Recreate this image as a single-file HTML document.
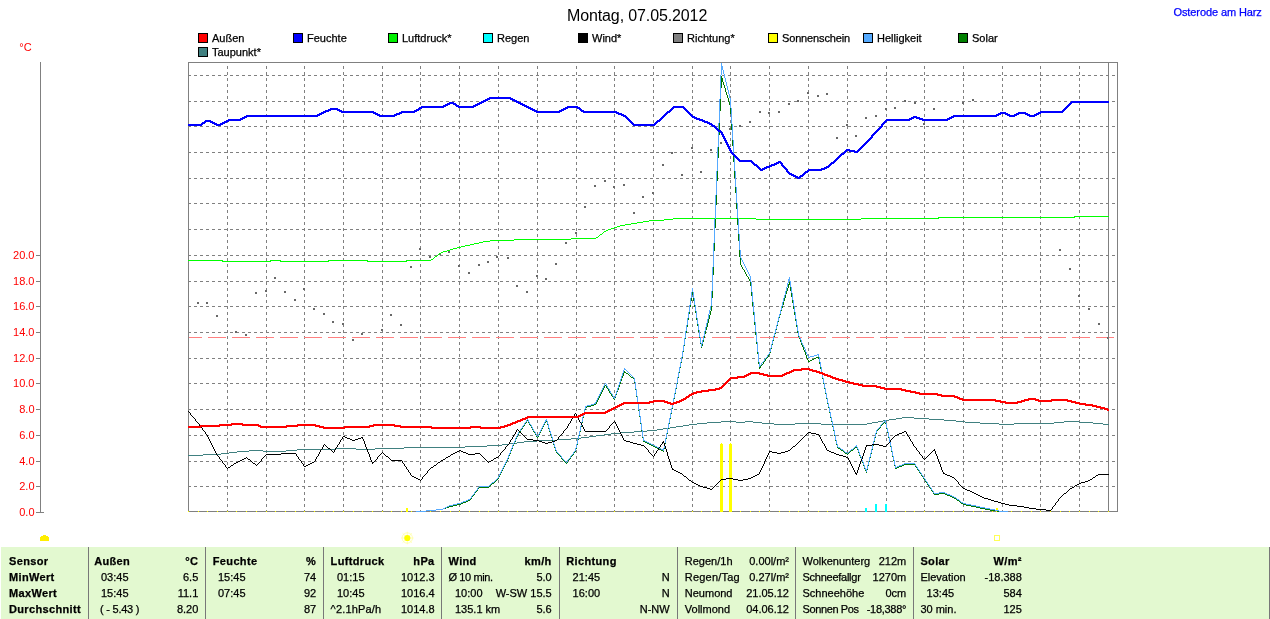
<!DOCTYPE html><html><head><meta charset="utf-8"><title>Wetter</title>
<style>html,body{margin:0;padding:0;background:#fff;overflow:hidden}svg{display:block;will-change:transform}text{font-family:"Liberation Sans",sans-serif;font-size:11px;fill:#000;stroke:#000;stroke-width:0.25px}.b{font-weight:bold;letter-spacing:0.35px}.r{fill:#f00;stroke:none}.e{text-anchor:end}</style></head><body>
<svg width="1270" height="619" viewBox="0 0 1270 619">
<rect width="1270" height="619" fill="#fff"/>
<g shape-rendering="crispEdges" stroke="#808080" stroke-width="1" fill="none"><line x1="188" y1="486.5" x2="1117" y2="486.5" stroke-dasharray="3 3"/><line x1="188" y1="461.5" x2="1117" y2="461.5" stroke-dasharray="3 3"/><line x1="188" y1="435.5" x2="1117" y2="435.5" stroke-dasharray="3 3"/><line x1="188" y1="409.5" x2="1117" y2="409.5" stroke-dasharray="3 3"/><line x1="188" y1="383.5" x2="1117" y2="383.5" stroke-dasharray="3 3"/><line x1="188" y1="358.5" x2="1117" y2="358.5" stroke-dasharray="3 3"/><line x1="188" y1="332.5" x2="1117" y2="332.5" stroke-dasharray="3 3"/><line x1="188" y1="306.5" x2="1117" y2="306.5" stroke-dasharray="3 3"/><line x1="188" y1="281.5" x2="1117" y2="281.5" stroke-dasharray="3 3"/><line x1="188" y1="255.5" x2="1117" y2="255.5" stroke-dasharray="3 3"/><line x1="188" y1="229.5" x2="1117" y2="229.5" stroke-dasharray="3 3"/><line x1="188" y1="203.5" x2="1117" y2="203.5" stroke-dasharray="3 3"/><line x1="188" y1="178.5" x2="1117" y2="178.5" stroke-dasharray="3 3"/><line x1="188" y1="152.5" x2="1117" y2="152.5" stroke-dasharray="3 3"/><line x1="188" y1="126.5" x2="1117" y2="126.5" stroke-dasharray="3 3"/><line x1="188" y1="101.5" x2="1117" y2="101.5" stroke-dasharray="3 3"/><line x1="188" y1="75.5" x2="1117" y2="75.5" stroke-dasharray="3 3"/><line x1="227.5" y1="66" x2="227.5" y2="511" stroke-dasharray="3 3"/><line x1="266.5" y1="66" x2="266.5" y2="511" stroke-dasharray="3 3"/><line x1="304.5" y1="66" x2="304.5" y2="511" stroke-dasharray="3 3"/><line x1="343.5" y1="66" x2="343.5" y2="511" stroke-dasharray="3 3"/><line x1="382.5" y1="66" x2="382.5" y2="511" stroke-dasharray="3 3"/><line x1="420.5" y1="66" x2="420.5" y2="511" stroke-dasharray="3 3"/><line x1="459.5" y1="66" x2="459.5" y2="511" stroke-dasharray="3 3"/><line x1="498.5" y1="66" x2="498.5" y2="511" stroke-dasharray="3 3"/><line x1="537.5" y1="66" x2="537.5" y2="511" stroke-dasharray="3 3"/><line x1="576.5" y1="66" x2="576.5" y2="511" stroke-dasharray="3 3"/><line x1="614.5" y1="66" x2="614.5" y2="511" stroke-dasharray="3 3"/><line x1="653.5" y1="66" x2="653.5" y2="511" stroke-dasharray="3 3"/><line x1="692.5" y1="66" x2="692.5" y2="511" stroke-dasharray="3 3"/><line x1="730.5" y1="66" x2="730.5" y2="511" stroke-dasharray="3 3"/><line x1="769.5" y1="66" x2="769.5" y2="511" stroke-dasharray="3 3"/><line x1="808.5" y1="66" x2="808.5" y2="511" stroke-dasharray="3 3"/><line x1="847.5" y1="66" x2="847.5" y2="511" stroke-dasharray="3 3"/><line x1="886.5" y1="66" x2="886.5" y2="511" stroke-dasharray="3 3"/><line x1="924.5" y1="66" x2="924.5" y2="511" stroke-dasharray="3 3"/><line x1="963.5" y1="66" x2="963.5" y2="511" stroke-dasharray="3 3"/><line x1="1002.5" y1="66" x2="1002.5" y2="511" stroke-dasharray="3 3"/><line x1="1040.5" y1="66" x2="1040.5" y2="511" stroke-dasharray="3 3"/><line x1="1079.5" y1="66" x2="1079.5" y2="511" stroke-dasharray="3 3"/></g>
<line x1="184" y1="337.5" x2="1117" y2="337.5" stroke="#ff8080" stroke-width="1" stroke-dasharray="18 6" shape-rendering="crispEdges" clip-path="url(#cp)"/>
<defs><clipPath id="cp"><rect x="189" y="63" width="928" height="449"/></clipPath></defs>
<g fill="#686868" shape-rendering="crispEdges"><rect x="197" y="302" width="2" height="2"/><rect x="206" y="302" width="2" height="2"/><rect x="216" y="315" width="2" height="2"/><rect x="235" y="331" width="2" height="2"/><rect x="245" y="334" width="2" height="2"/><rect x="255" y="292" width="2" height="2"/><rect x="265" y="290" width="2" height="2"/><rect x="274" y="277" width="2" height="2"/><rect x="284" y="291" width="2" height="2"/><rect x="294" y="299" width="2" height="2"/><rect x="303" y="288" width="2" height="2"/><rect x="313" y="308" width="2" height="2"/><rect x="323" y="313" width="2" height="2"/><rect x="332" y="321" width="2" height="2"/><rect x="342" y="323" width="2" height="2"/><rect x="352" y="339" width="2" height="2"/><rect x="361" y="333" width="2" height="2"/><rect x="381" y="329" width="2" height="2"/><rect x="390" y="314" width="2" height="2"/><rect x="400" y="324" width="2" height="2"/><rect x="410" y="266" width="2" height="2"/><rect x="419" y="248" width="2" height="2"/><rect x="429" y="256" width="2" height="2"/><rect x="439" y="253" width="2" height="2"/><rect x="448" y="251" width="2" height="2"/><rect x="458" y="265" width="2" height="2"/><rect x="468" y="272" width="2" height="2"/><rect x="478" y="264" width="2" height="2"/><rect x="487" y="261" width="2" height="2"/><rect x="496" y="256" width="2" height="2"/><rect x="507" y="257" width="2" height="2"/><rect x="516" y="285" width="2" height="2"/><rect x="526" y="291" width="2" height="2"/><rect x="536" y="275" width="2" height="2"/><rect x="545" y="278" width="2" height="2"/><rect x="555" y="263" width="2" height="2"/><rect x="565" y="242" width="2" height="2"/><rect x="575" y="232" width="2" height="2"/><rect x="584" y="206" width="2" height="2"/><rect x="594" y="185" width="2" height="2"/><rect x="604" y="180" width="2" height="2"/><rect x="613" y="186" width="2" height="2"/><rect x="623" y="184" width="2" height="2"/><rect x="633" y="212" width="2" height="2"/><rect x="642" y="196" width="2" height="2"/><rect x="652" y="192" width="2" height="2"/><rect x="662" y="164" width="2" height="2"/><rect x="671" y="152" width="2" height="2"/><rect x="681" y="174" width="2" height="2"/><rect x="691" y="147" width="2" height="2"/><rect x="700" y="171" width="2" height="2"/><rect x="710" y="149" width="2" height="2"/><rect x="720" y="142" width="2" height="2"/><rect x="729" y="128" width="2" height="2"/><rect x="739" y="125" width="2" height="2"/><rect x="749" y="121" width="2" height="2"/><rect x="759" y="111" width="2" height="2"/><rect x="768" y="112" width="2" height="2"/><rect x="778" y="111" width="2" height="2"/><rect x="788" y="103" width="2" height="2"/><rect x="797" y="100" width="2" height="2"/><rect x="807" y="92" width="2" height="2"/><rect x="817" y="95" width="2" height="2"/><rect x="826" y="93" width="2" height="2"/><rect x="836" y="137" width="2" height="2"/><rect x="846" y="124" width="2" height="2"/><rect x="855" y="135" width="2" height="2"/><rect x="865" y="117" width="2" height="2"/><rect x="875" y="115" width="2" height="2"/><rect x="885" y="108" width="2" height="2"/><rect x="894" y="107" width="2" height="2"/><rect x="904" y="100" width="2" height="2"/><rect x="914" y="102" width="2" height="2"/><rect x="923" y="123" width="2" height="2"/><rect x="933" y="108" width="2" height="2"/><rect x="962" y="102" width="2" height="2"/><rect x="972" y="99" width="2" height="2"/><rect x="1059" y="249" width="2" height="2"/><rect x="1069" y="268" width="2" height="2"/><rect x="1078" y="295" width="2" height="2"/><rect x="1088" y="308" width="2" height="2"/><rect x="1098" y="323" width="2" height="2"/><rect x="1107" y="337" width="2" height="2"/></g>
<g shape-rendering="crispEdges" stroke="#808080" stroke-width="1" fill="none"><rect x="188.5" y="62.5" width="929" height="449"/><line x1="1108.5" y1="62" x2="1108.5" y2="512"/><line x1="40.5" y1="62" x2="40.5" y2="513"/>
<line x1="36" y1="512.5" x2="44" y2="512.5"/>
<line x1="36" y1="486.5" x2="40" y2="486.5"/>
<line x1="36" y1="461.5" x2="40" y2="461.5"/>
<line x1="36" y1="435.5" x2="40" y2="435.5"/>
<line x1="36" y1="409.5" x2="40" y2="409.5"/>
<line x1="36" y1="383.5" x2="40" y2="383.5"/>
<line x1="36" y1="358.5" x2="40" y2="358.5"/>
<line x1="36" y1="332.5" x2="40" y2="332.5"/>
<line x1="36" y1="306.5" x2="40" y2="306.5"/>
<line x1="36" y1="281.5" x2="40" y2="281.5"/>
<line x1="36" y1="255.5" x2="40" y2="255.5"/>
</g>
<g fill="#ffff00" shape-rendering="crispEdges"><rect x="188" y="511" width="1" height="1"/><rect x="198" y="511" width="1" height="1"/><rect x="207" y="511" width="1" height="1"/><rect x="217" y="511" width="1" height="1"/><rect x="227" y="511" width="1" height="1"/><rect x="236" y="511" width="1" height="1"/><rect x="246" y="511" width="1" height="1"/><rect x="256" y="511" width="1" height="1"/><rect x="266" y="511" width="1" height="1"/><rect x="275" y="511" width="1" height="1"/><rect x="285" y="511" width="1" height="1"/><rect x="295" y="511" width="1" height="1"/><rect x="304" y="511" width="1" height="1"/><rect x="314" y="511" width="1" height="1"/><rect x="324" y="511" width="1" height="1"/><rect x="333" y="511" width="1" height="1"/><rect x="343" y="511" width="1" height="1"/><rect x="353" y="511" width="1" height="1"/><rect x="362" y="511" width="1" height="1"/><rect x="372" y="511" width="1" height="1"/><rect x="382" y="511" width="1" height="1"/><rect x="391" y="511" width="1" height="1"/><rect x="401" y="511" width="1" height="1"/><rect x="411" y="511" width="1" height="1"/><rect x="420" y="511" width="1" height="1"/><rect x="430" y="511" width="1" height="1"/><rect x="440" y="511" width="1" height="1"/><rect x="450" y="511" width="1" height="1"/><rect x="459" y="511" width="1" height="1"/><rect x="469" y="511" width="1" height="1"/><rect x="479" y="511" width="1" height="1"/><rect x="488" y="511" width="1" height="1"/><rect x="498" y="511" width="1" height="1"/><rect x="508" y="511" width="1" height="1"/><rect x="517" y="511" width="1" height="1"/><rect x="527" y="511" width="1" height="1"/><rect x="537" y="511" width="1" height="1"/><rect x="546" y="511" width="1" height="1"/><rect x="556" y="511" width="1" height="1"/><rect x="566" y="511" width="1" height="1"/><rect x="575" y="511" width="1" height="1"/><rect x="585" y="511" width="1" height="1"/><rect x="595" y="511" width="1" height="1"/><rect x="605" y="511" width="1" height="1"/><rect x="614" y="511" width="1" height="1"/><rect x="624" y="511" width="1" height="1"/><rect x="634" y="511" width="1" height="1"/><rect x="643" y="511" width="1" height="1"/><rect x="653" y="511" width="1" height="1"/><rect x="663" y="511" width="1" height="1"/><rect x="672" y="511" width="1" height="1"/><rect x="682" y="511" width="1" height="1"/><rect x="692" y="511" width="1" height="1"/><rect x="701" y="511" width="1" height="1"/><rect x="711" y="511" width="1" height="1"/><rect x="721" y="511" width="1" height="1"/><rect x="730" y="511" width="1" height="1"/><rect x="740" y="511" width="1" height="1"/><rect x="750" y="511" width="1" height="1"/><rect x="759" y="511" width="1" height="1"/><rect x="769" y="511" width="1" height="1"/><rect x="779" y="511" width="1" height="1"/><rect x="789" y="511" width="1" height="1"/><rect x="798" y="511" width="1" height="1"/><rect x="808" y="511" width="1" height="1"/><rect x="818" y="511" width="1" height="1"/><rect x="827" y="511" width="1" height="1"/><rect x="837" y="511" width="1" height="1"/><rect x="847" y="511" width="1" height="1"/><rect x="856" y="511" width="1" height="1"/><rect x="866" y="511" width="1" height="1"/><rect x="876" y="511" width="1" height="1"/><rect x="885" y="511" width="1" height="1"/><rect x="895" y="511" width="1" height="1"/><rect x="905" y="511" width="1" height="1"/><rect x="914" y="511" width="1" height="1"/><rect x="924" y="511" width="1" height="1"/><rect x="934" y="511" width="1" height="1"/><rect x="943" y="511" width="1" height="1"/><rect x="953" y="511" width="1" height="1"/><rect x="963" y="511" width="1" height="1"/><rect x="973" y="511" width="1" height="1"/><rect x="982" y="511" width="1" height="1"/><rect x="992" y="511" width="1" height="1"/><rect x="1002" y="511" width="1" height="1"/><rect x="1011" y="511" width="1" height="1"/><rect x="1021" y="511" width="1" height="1"/><rect x="1031" y="511" width="1" height="1"/><rect x="1040" y="511" width="1" height="1"/><rect x="1050" y="511" width="1" height="1"/><rect x="1060" y="511" width="1" height="1"/><rect x="1069" y="511" width="1" height="1"/><rect x="1079" y="511" width="1" height="1"/><rect x="1089" y="511" width="1" height="1"/><rect x="1098" y="511" width="1" height="1"/><rect x="1108" y="511" width="1" height="1"/></g>
<g shape-rendering="crispEdges"><rect x="720" y="444" width="3" height="68" fill="#ffff00"/><rect x="729" y="444" width="3" height="68" fill="#ffff00"/><rect x="721" y="443" width="1" height="1" fill="#ffff00"/><rect x="730" y="443" width="1" height="1" fill="#ffff00"/><rect x="406" y="508" width="2" height="4" fill="#ffff00"/><rect x="996" y="508" width="2" height="4" fill="#ffff00"/><rect x="865" y="508" width="2" height="4" fill="#00ffff"/><rect x="875" y="504" width="2" height="8" fill="#00ffff"/><rect x="885" y="504" width="2" height="8" fill="#00ffff"/></g>
<g shape-rendering="crispEdges">
<path d="M188 260h35v1h-35zM222 261h49v1h-49zM270 260h11v1h-11zM280 261h49v1h-49zM328 260h40v1h-40zM367 261h40v1h-40zM406 260h25v1h-25zM431 259h2v1h-2zM433 258h1v1h-1zM434 257h1v1h-1zM435 256h2v1h-2zM437 255h1v1h-1zM438 254h1v1h-1zM439 253h2v1h-2zM441 252h2v1h-2zM443 251h4v1h-4zM447 250h3v1h-3zM450 249h3v1h-3zM453 248h4v1h-4zM457 247h4v1h-4zM461 246h4v1h-4zM465 245h5v1h-5zM470 244h4v1h-4zM474 243h5v1h-5zM479 242h4v1h-4zM483 241h7v1h-7zM490 240h24v1h-24zM514 239h57v1h-57zM571 238h25v1h-25zM596 237h2v1h-2zM598 236h1v1h-1zM599 235h1v1h-1zM600 234h2v1h-2zM602 233h1v1h-1zM603 232h1v1h-1zM604 231h2v1h-2zM606 230h2v1h-2zM608 229h3v1h-3zM611 228h3v1h-3zM614 227h3v1h-3zM617 226h3v1h-3zM620 225h5v1h-5zM625 224h6v1h-6zM631 223h6v1h-6zM637 222h6v1h-6zM643 221h6v1h-6zM649 220h15v1h-15zM664 219h9v1h-9zM673 218h83v1h-83zM756 219h105v1h-105zM861 218h78v1h-78zM938 217h137v1h-137zM1074 216h35v1h-35z" fill="#00ff00"/>
<path d="M188 455h15v1h-15zM203 454h18v1h-18zM221 453h8v1h-8zM229 452h8v1h-8zM237 451h12v1h-12zM249 450h14v1h-14zM263 451h23v1h-23zM286 450h11v1h-11zM297 449h39v1h-39zM336 448h20v1h-20zM356 449h19v1h-19zM375 448h29v1h-29zM404 447h61v1h-61zM465 446h22v1h-22zM487 445h15v1h-15zM502 444h7v1h-7zM509 443h8v1h-8zM517 442h7v1h-7zM524 441h13v1h-13zM537 440h20v1h-20zM557 439h14v1h-14zM571 438h10v1h-10zM581 437h8v1h-8zM589 436h7v1h-7zM596 435h8v1h-8zM604 434h7v1h-7zM611 433h10v1h-10zM621 432h13v1h-13zM634 431h13v1h-13zM647 430h10v1h-10zM657 429h6v1h-6zM663 428h7v1h-7zM670 427h6v1h-6zM676 426h7v1h-7zM683 425h6v1h-6zM689 424h8v1h-8zM697 423h10v1h-10zM707 422h14v1h-14zM721 421h15v1h-15zM736 422h9v1h-9zM745 421h8v1h-8zM753 422h9v1h-9zM762 423h12v1h-12zM774 424h21v1h-21zM795 423h26v1h-26zM821 424h46v1h-46zM867 423h5v1h-5zM872 422h6v1h-6zM878 421h5v1h-5zM883 420h6v1h-6zM889 419h7v1h-7zM896 418h6v1h-6zM902 417h12v1h-12zM914 418h15v1h-15zM929 419h15v1h-15zM944 420h12v1h-12zM956 421h9v1h-9zM965 422h15v1h-15zM980 423h19v1h-19zM999 424h15v1h-15zM1014 423h40v1h-40zM1054 422h10v1h-10zM1064 421h15v1h-15zM1079 422h14v1h-14zM1093 423h10v1h-10zM1103 424h6v1h-6z" fill="#408080"/>
<path d="M441 509h2v1h-2zM443 508h3v1h-3zM446 507h3v1h-3zM449 506h4v1h-4zM453 505h4v1h-4zM457 504h4v1h-4zM461 503h2v1h-2zM463 502h3v1h-3zM466 501h2v1h-2zM468 500h2v1h-2zM470 499h1v1h-1zM471 497h1v2h-1zM472 496h1v1h-1zM473 495h1v1h-1zM474 493h1v2h-1zM475 492h1v1h-1zM476 491h1v1h-1zM477 489h1v2h-1zM478 488h1v1h-1zM479 487h10v1h-10zM489 486h1v1h-1zM490 485h1v1h-1zM491 484h1v1h-1zM492 483h2v1h-2zM494 482h1v1h-1zM495 481h1v1h-1zM496 480h1v1h-1zM497 479h1v1h-1zM498 477h1v2h-1zM499 475h1v2h-1zM500 473h1v2h-1zM501 471h1v2h-1zM502 469h1v2h-1zM503 467h1v2h-1zM504 465h1v2h-1zM505 463h1v2h-1zM506 461h1v2h-1zM507 459h1v2h-1zM508 456h1v3h-1zM509 454h1v2h-1zM510 451h1v3h-1zM511 449h1v2h-1zM512 446h1v3h-1zM513 444h1v2h-1zM514 442h1v2h-1zM515 439h1v3h-1zM516 437h1v2h-1zM517 435h1v2h-1zM518 433h1v2h-1zM519 432h1v1h-1zM520 430h1v2h-1zM521 429h1v1h-1zM522 427h1v2h-1zM523 426h1v1h-1zM524 424h1v2h-1zM525 423h1v1h-1zM526 421h1v2h-1zM527 420h1v1h-1zM528 421h1v2h-1zM529 423h1v2h-1zM530 425h1v1h-1zM531 426h1v2h-1zM532 428h1v2h-1zM533 430h1v2h-1zM534 432h1v1h-1zM535 433h1v2h-1zM536 435h1v2h-1zM537 437h1v1h-1zM538 435h1v2h-1zM539 433h1v2h-1zM540 431h1v2h-1zM541 429h1v2h-1zM542 427h1v2h-1zM543 425h1v2h-1zM544 423h1v2h-1zM545 422h1v1h-1zM545 421h2v1h-2zM546 420h1v1h-1zM547 422h1v3h-1zM548 425h1v4h-1zM549 429h1v3h-1zM550 432h1v3h-1zM551 435h1v3h-1zM552 438h1v3h-1zM553 441h1v4h-1zM554 445h1v3h-1zM555 448h1v3h-1zM556 451h1v2h-1zM557 453h1v1h-1zM558 454h1v1h-1zM559 455h1v1h-1zM560 456h1v1h-1zM561 457h1v2h-1zM562 459h1v1h-1zM563 460h1v1h-1zM564 461h1v1h-1zM565 462h1v1h-1zM566 463h1v1h-1zM567 461h1v2h-1zM568 460h1v1h-1zM569 459h1v1h-1zM570 457h1v2h-1zM571 456h1v1h-1zM572 455h1v1h-1zM573 453h1v2h-1zM574 452h1v1h-1zM575 449h1v3h-1zM576 445h1v4h-1zM577 440h1v5h-1zM578 436h1v4h-1zM579 432h1v4h-1zM580 427h1v5h-1zM581 423h1v4h-1zM582 418h1v5h-1zM583 414h1v4h-1zM584 410h1v4h-1zM585 408h1v2h-1zM585 407h2v1h-2zM587 406h4v1h-4zM591 405h3v1h-3zM594 404h2v1h-2zM596 402h1v2h-1zM597 400h1v2h-1zM598 398h1v2h-1zM599 396h1v2h-1zM600 394h1v2h-1zM601 392h1v2h-1zM602 390h1v2h-1zM603 388h1v2h-1zM604 386h1v2h-1zM605 385h1v1h-1zM606 386h1v2h-1zM607 388h1v1h-1zM608 389h1v2h-1zM609 391h1v2h-1zM610 393h1v1h-1zM611 394h1v2h-1zM612 396h1v1h-1zM613 397h1v1h-1zM613 398h2v1h-2zM614 399h1v1h-1zM615 395h1v3h-1zM616 392h1v3h-1zM617 390h1v2h-1zM618 387h1v3h-1zM619 384h1v3h-1zM620 381h1v3h-1zM621 378h1v3h-1zM622 376h1v2h-1zM623 373h1v3h-1zM624 371h1v1h-1zM624 372h2v1h-2zM626 373h2v1h-2zM628 374h1v1h-1zM629 375h1v1h-1zM630 376h1v1h-1zM631 377h2v1h-2zM633 378h1v1h-1zM634 379h1v4h-1zM635 383h1v7h-1zM636 390h1v7h-1zM637 397h1v7h-1zM638 404h1v7h-1zM639 411h1v6h-1zM640 417h1v7h-1zM641 424h1v7h-1zM642 431h1v7h-1zM643 438h1v3h-1zM643 441h2v1h-2zM645 442h2v1h-2zM647 443h2v1h-2zM649 444h2v1h-2zM651 445h2v1h-2zM653 446h2v1h-2zM655 447h2v1h-2zM657 448h2v1h-2zM659 449h2v1h-2zM661 450h3v1h-3zM663 449h1v1h-1zM663 451h1v1h-1zM664 444h1v5h-1zM665 439h1v5h-1zM666 434h1v5h-1zM667 429h1v5h-1zM668 424h1v5h-1zM669 419h1v5h-1zM670 414h1v5h-1zM671 409h1v5h-1zM672 404h1v5h-1zM673 399h1v5h-1zM674 394h1v5h-1zM675 389h1v5h-1zM676 384h1v5h-1zM677 378h1v6h-1zM678 373h1v5h-1zM679 368h1v5h-1zM680 363h1v5h-1zM681 358h1v5h-1zM682 352h1v6h-1zM683 346h1v6h-1zM684 339h1v7h-1zM685 333h1v6h-1zM686 327h1v6h-1zM687 320h1v7h-1zM688 314h1v6h-1zM689 307h1v7h-1zM690 301h1v6h-1zM691 295h1v6h-1zM692 291h1v4h-1zM693 295h1v6h-1zM694 301h1v6h-1zM695 307h1v6h-1zM696 313h1v7h-1zM697 320h1v6h-1zM698 326h1v6h-1zM699 332h1v6h-1zM700 338h1v6h-1zM701 346h1v2h-1zM701 344h2v2h-2zM702 342h1v2h-1zM703 338h1v4h-1zM704 334h1v4h-1zM705 330h1v4h-1zM706 327h1v3h-1zM707 323h1v4h-1zM708 319h1v4h-1zM709 315h1v4h-1zM710 311h1v4h-1zM711 298h1v13h-1zM712 275h1v23h-1zM713 251h1v24h-1zM714 228h1v23h-1zM715 205h1v23h-1zM716 181h1v24h-1zM717 158h1v23h-1zM718 135h1v23h-1zM719 111h1v24h-1zM720 88h1v23h-1zM721 76h1v2h-1zM721 82h1v6h-1zM721 78h2v4h-2zM723 82h1v3h-1zM724 85h1v3h-1zM725 88h1v4h-1zM726 92h1v3h-1zM727 95h1v3h-1zM728 98h1v4h-1zM729 102h1v3h-1zM730 105h1v9h-1zM731 114h1v16h-1zM732 130h1v16h-1zM733 146h1v16h-1zM734 162h1v16h-1zM735 178h1v15h-1zM736 193h1v16h-1zM737 209h1v16h-1zM738 225h1v16h-1zM739 241h1v16h-1zM740 257h1v8h-1zM741 265h1v2h-1zM742 267h1v2h-1zM743 269h1v1h-1zM744 270h1v2h-1zM745 272h1v2h-1zM746 274h1v2h-1zM747 276h1v1h-1zM748 277h1v2h-1zM749 279h1v2h-1zM750 281h1v5h-1zM751 286h1v10h-1zM752 296h1v10h-1zM753 306h1v9h-1zM754 315h1v10h-1zM755 325h1v10h-1zM756 335h1v9h-1zM757 344h1v10h-1zM758 354h1v10h-1zM759 364h1v2h-1zM759 368h1v1h-1zM759 366h2v2h-2zM761 365h1v1h-1zM762 364h1v1h-1zM763 362h1v2h-1zM764 361h1v1h-1zM765 359h1v2h-1zM766 358h1v1h-1zM767 357h1v1h-1zM768 355h1v2h-1zM769 353h1v2h-1zM770 349h1v4h-1zM771 345h1v4h-1zM772 341h1v4h-1zM773 337h1v4h-1zM774 334h1v3h-1zM775 330h1v4h-1zM776 326h1v4h-1zM777 322h1v4h-1zM778 318h1v4h-1zM779 315h1v3h-1zM780 311h1v4h-1zM781 308h1v3h-1zM782 305h1v3h-1zM783 301h1v4h-1zM784 298h1v3h-1zM785 294h1v4h-1zM786 291h1v3h-1zM787 288h1v3h-1zM788 285h1v3h-1zM788 284h2v1h-2zM789 282h1v2h-1zM790 285h1v6h-1zM791 291h1v6h-1zM792 297h1v6h-1zM793 303h1v6h-1zM794 309h1v6h-1zM795 315h1v6h-1zM796 321h1v6h-1zM797 327h1v6h-1zM798 333h1v4h-1zM799 337h1v2h-1zM800 339h1v3h-1zM801 342h1v3h-1zM802 345h1v2h-1zM803 347h1v3h-1zM804 350h1v2h-1zM805 352h1v3h-1zM806 355h1v3h-1zM807 358h1v2h-1zM808 360h1v1h-1zM808 361h2v1h-2zM810 360h2v1h-2zM812 359h2v1h-2zM814 358h2v1h-2zM816 357h3v1h-3zM818 356h1v1h-1zM818 358h1v1h-1zM819 359h1v5h-1zM820 364h1v5h-1zM821 369h1v5h-1zM822 374h1v5h-1zM823 379h1v5h-1zM824 384h1v5h-1zM825 389h1v5h-1zM826 394h1v5h-1zM827 399h1v5h-1zM828 404h1v4h-1zM829 408h1v5h-1zM830 413h1v5h-1zM831 418h1v4h-1zM832 422h1v5h-1zM833 427h1v4h-1zM834 431h1v5h-1zM835 436h1v5h-1zM836 441h1v4h-1zM837 445h1v3h-1zM838 448h2v1h-2zM840 449h1v1h-1zM841 450h2v1h-2zM843 451h1v1h-1zM844 452h1v1h-1zM845 453h2v1h-2zM847 454h1v1h-1zM848 453h1v1h-1zM849 452h1v1h-1zM850 451h1v1h-1zM851 450h2v1h-2zM853 449h1v1h-1zM854 448h1v1h-1zM855 447h2v1h-2zM856 446h1v1h-1zM857 448h1v2h-1zM858 450h1v3h-1zM859 453h1v3h-1zM860 456h1v2h-1zM861 458h1v3h-1zM862 461h1v2h-1zM863 463h1v3h-1zM864 466h1v3h-1zM865 469h1v1h-1zM865 470h2v1h-2zM866 471h1v2h-1zM867 466h1v4h-1zM868 462h1v4h-1zM869 458h1v4h-1zM870 454h1v4h-1zM871 450h1v4h-1zM872 446h1v4h-1zM873 442h1v4h-1zM874 438h1v4h-1zM875 434h1v4h-1zM876 431h1v3h-1zM877 430h1v1h-1zM878 429h1v1h-1zM879 428h1v1h-1zM880 426h1v2h-1zM881 425h1v1h-1zM882 424h1v1h-1zM883 423h1v1h-1zM884 422h2v1h-2zM885 421h1v1h-1zM885 423h1v1h-1zM886 424h1v5h-1zM887 429h1v4h-1zM888 433h1v5h-1zM889 438h1v5h-1zM890 443h1v4h-1zM891 447h1v5h-1zM892 452h1v5h-1zM893 457h1v4h-1zM894 461h1v5h-1zM895 466h1v2h-1zM895 468h2v1h-2zM897 467h2v1h-2zM899 466h3v1h-3zM902 465h2v1h-2zM904 464h11v1h-11zM915 465h1v2h-1zM916 467h1v1h-1zM917 468h1v2h-1zM918 470h1v1h-1zM919 471h1v2h-1zM920 473h1v1h-1zM921 474h1v2h-1zM922 476h1v1h-1zM923 477h1v2h-1zM924 479h1v1h-1zM925 480h1v2h-1zM926 482h1v1h-1zM927 483h1v2h-1zM928 485h1v1h-1zM929 486h1v2h-1zM930 488h1v1h-1zM931 489h1v2h-1zM932 491h1v1h-1zM933 492h1v2h-1zM934 494h5v1h-5zM939 493h6v1h-6zM945 494h2v1h-2zM947 495h3v1h-3zM950 496h2v1h-2zM952 497h2v1h-2zM954 498h2v1h-2zM956 499h1v1h-1zM957 500h2v1h-2zM959 501h1v1h-1zM960 502h1v1h-1zM961 503h2v1h-2zM963 504h3v1h-3zM966 505h5v1h-5zM971 506h5v1h-5zM976 507h4v1h-4zM980 508h5v1h-5zM985 509h5v1h-5zM990 510h7v1h-7zM997 511h4v1h-4z" fill="#007800"/>
<path d="M416 511h10v1h-10zM426 510h10v1h-10zM436 509h7v1h-7zM443 508h2v1h-2zM445 507h2v1h-2zM447 506h2v1h-2zM449 505h4v1h-4zM453 504h4v1h-4zM457 503h4v1h-4zM461 502h2v1h-2zM463 501h3v1h-3zM466 500h2v1h-2zM468 499h2v1h-2zM470 498h1v1h-1zM471 496h1v2h-1zM472 495h1v1h-1zM473 494h1v1h-1zM474 492h1v2h-1zM475 491h1v1h-1zM476 490h1v1h-1zM477 488h1v2h-1zM478 487h1v1h-1zM479 486h10v1h-10zM489 485h1v1h-1zM490 484h1v1h-1zM491 483h1v1h-1zM492 482h2v1h-2zM494 481h1v1h-1zM495 480h1v1h-1zM496 479h1v1h-1zM497 478h1v1h-1zM498 476h1v2h-1zM499 474h1v2h-1zM500 472h1v2h-1zM501 470h1v2h-1zM502 468h1v2h-1zM503 466h1v2h-1zM504 464h1v2h-1zM505 462h1v2h-1zM506 460h1v2h-1zM507 458h1v2h-1zM508 455h1v3h-1zM509 453h1v2h-1zM510 450h1v3h-1zM511 448h1v2h-1zM512 445h1v3h-1zM513 443h1v2h-1zM514 441h1v2h-1zM515 438h1v3h-1zM516 436h1v2h-1zM517 434h1v2h-1zM518 432h1v2h-1zM519 431h1v1h-1zM520 429h1v2h-1zM521 428h1v1h-1zM522 426h1v2h-1zM523 425h1v1h-1zM524 423h1v2h-1zM525 422h1v1h-1zM526 420h1v2h-1zM527 419h1v1h-1zM528 420h1v2h-1zM529 422h1v2h-1zM530 424h1v1h-1zM531 425h1v2h-1zM532 427h1v2h-1zM533 429h1v2h-1zM534 431h1v1h-1zM535 432h1v2h-1zM536 434h1v2h-1zM537 436h1v1h-1zM538 434h1v2h-1zM539 432h1v2h-1zM540 430h1v2h-1zM541 428h1v2h-1zM542 426h1v2h-1zM543 424h1v2h-1zM544 422h1v2h-1zM545 421h1v1h-1zM545 420h2v1h-2zM546 419h1v1h-1zM547 421h1v3h-1zM548 424h1v4h-1zM549 428h1v3h-1zM550 431h1v3h-1zM551 434h1v3h-1zM552 437h1v3h-1zM553 440h1v4h-1zM554 444h1v3h-1zM555 447h1v3h-1zM556 450h1v2h-1zM557 452h1v1h-1zM558 453h1v1h-1zM559 454h1v1h-1zM560 455h1v1h-1zM561 456h1v2h-1zM562 458h1v1h-1zM563 459h1v1h-1zM564 460h1v1h-1zM565 461h1v1h-1zM566 462h1v1h-1zM567 460h1v2h-1zM568 459h1v1h-1zM569 458h1v1h-1zM570 456h1v2h-1zM571 455h1v1h-1zM572 454h1v1h-1zM573 452h1v2h-1zM574 451h1v1h-1zM575 448h1v3h-1zM576 444h1v4h-1zM577 439h1v5h-1zM578 435h1v4h-1zM579 431h1v4h-1zM580 426h1v5h-1zM581 422h1v4h-1zM582 417h1v5h-1zM583 413h1v4h-1zM584 409h1v4h-1zM585 407h1v2h-1zM585 406h2v1h-2zM587 405h4v1h-4zM591 404h3v1h-3zM594 403h2v1h-2zM595 402h1v1h-1zM596 400h1v2h-1zM597 398h1v2h-1zM598 396h1v2h-1zM599 394h1v2h-1zM600 392h1v2h-1zM601 390h1v2h-1zM602 388h1v2h-1zM603 386h1v2h-1zM604 384h1v2h-1zM605 383h1v1h-1zM606 384h1v2h-1zM607 386h1v2h-1zM608 388h1v1h-1zM609 389h1v2h-1zM610 391h1v2h-1zM611 393h1v1h-1zM612 394h1v2h-1zM613 396h1v1h-1zM613 397h2v1h-2zM614 398h1v1h-1zM615 394h1v3h-1zM616 391h1v3h-1zM617 388h1v3h-1zM618 385h1v3h-1zM619 382h1v3h-1zM620 379h1v3h-1zM621 376h1v3h-1zM622 373h1v3h-1zM623 370h1v3h-1zM624 368h1v1h-1zM624 369h2v1h-2zM626 370h1v1h-1zM627 371h1v1h-1zM628 372h1v1h-1zM629 373h1v1h-1zM630 374h1v1h-1zM631 375h1v1h-1zM632 376h1v1h-1zM633 377h1v1h-1zM634 378h1v4h-1zM635 382h1v7h-1zM636 389h1v7h-1zM637 396h1v7h-1zM638 403h1v7h-1zM639 410h1v6h-1zM640 416h1v7h-1zM641 423h1v7h-1zM642 430h1v7h-1zM643 437h1v3h-1zM643 440h2v1h-2zM645 441h2v1h-2zM647 442h2v1h-2zM649 443h2v1h-2zM651 444h2v1h-2zM653 445h2v1h-2zM655 446h2v1h-2zM657 447h2v1h-2zM659 448h2v1h-2zM661 449h3v1h-3zM663 448h1v1h-1zM663 450h1v1h-1zM664 443h1v5h-1zM665 438h1v5h-1zM666 433h1v5h-1zM667 428h1v5h-1zM668 423h1v5h-1zM669 418h1v5h-1zM670 413h1v5h-1zM671 408h1v5h-1zM672 403h1v5h-1zM673 398h1v5h-1zM674 393h1v5h-1zM675 388h1v5h-1zM676 383h1v5h-1zM677 377h1v6h-1zM678 372h1v5h-1zM679 367h1v5h-1zM680 362h1v5h-1zM681 357h1v5h-1zM682 351h1v6h-1zM683 345h1v6h-1zM684 338h1v7h-1zM685 331h1v7h-1zM686 325h1v6h-1zM687 318h1v7h-1zM688 312h1v6h-1zM689 305h1v7h-1zM690 298h1v7h-1zM691 292h1v6h-1zM692 288h1v4h-1zM693 292h1v6h-1zM694 298h1v7h-1zM695 305h1v6h-1zM696 311h1v7h-1zM697 318h1v6h-1zM698 324h1v6h-1zM699 330h1v7h-1zM700 337h1v6h-1zM701 344h1v3h-1zM701 343h2v1h-2zM702 340h1v3h-1zM703 336h1v4h-1zM704 331h1v5h-1zM705 327h1v4h-1zM706 323h1v4h-1zM707 319h1v4h-1zM708 314h1v5h-1zM709 310h1v4h-1zM710 306h1v4h-1zM711 291h1v15h-1zM712 267h1v24h-1zM713 243h1v24h-1zM714 219h1v24h-1zM715 195h1v24h-1zM716 171h1v24h-1zM717 147h1v24h-1zM718 123h1v24h-1zM719 99h1v24h-1zM720 75h1v24h-1zM721 63h1v3h-1zM721 70h1v5h-1zM721 66h2v4h-2zM723 70h1v4h-1zM724 74h1v4h-1zM725 78h1v4h-1zM726 82h1v4h-1zM727 86h1v4h-1zM728 90h1v4h-1zM729 94h1v4h-1zM730 98h1v10h-1zM731 108h1v16h-1zM732 124h1v16h-1zM733 140h1v15h-1zM734 155h1v16h-1zM735 171h1v16h-1zM736 187h1v16h-1zM737 203h1v15h-1zM738 218h1v16h-1zM739 234h1v16h-1zM740 250h1v8h-1zM741 258h1v2h-1zM742 260h1v2h-1zM743 262h1v2h-1zM744 264h1v2h-1zM745 266h1v2h-1zM746 268h1v2h-1zM747 270h1v2h-1zM748 272h1v2h-1zM749 274h1v2h-1zM750 276h1v6h-1zM751 282h1v10h-1zM752 292h1v10h-1zM753 302h1v10h-1zM754 312h1v10h-1zM755 322h1v10h-1zM756 332h1v10h-1zM757 342h1v10h-1zM758 352h1v10h-1zM759 362h1v3h-1zM759 366h1v1h-1zM759 365h2v1h-2zM761 363h1v2h-1zM762 362h1v1h-1zM763 361h1v1h-1zM764 359h1v2h-1zM765 358h1v1h-1zM766 357h1v1h-1zM767 355h1v2h-1zM768 354h1v1h-1zM769 352h1v2h-1zM770 348h1v4h-1zM771 344h1v4h-1zM772 340h1v4h-1zM773 336h1v4h-1zM774 333h1v3h-1zM775 329h1v4h-1zM776 325h1v4h-1zM777 321h1v4h-1zM778 317h1v4h-1zM779 314h1v3h-1zM780 310h1v4h-1zM781 306h1v4h-1zM782 302h1v4h-1zM783 298h1v4h-1zM784 295h1v3h-1zM785 291h1v4h-1zM786 287h1v4h-1zM787 283h1v4h-1zM788 281h1v2h-1zM788 279h2v2h-2zM789 277h1v2h-1zM790 281h1v6h-1zM791 287h1v6h-1zM792 293h1v7h-1zM793 300h1v6h-1zM794 306h1v6h-1zM795 312h1v7h-1zM796 319h1v6h-1zM797 325h1v6h-1zM798 331h1v5h-1zM799 336h1v2h-1zM800 338h1v2h-1zM801 340h1v3h-1zM802 343h1v2h-1zM803 345h1v2h-1zM804 347h1v2h-1zM805 349h1v3h-1zM806 352h1v2h-1zM807 354h1v2h-1zM808 356h1v1h-1zM808 357h2v1h-2zM810 356h4v1h-4zM814 355h3v1h-3zM817 354h2v1h-2zM818 355h1v2h-1zM819 357h1v5h-1zM820 362h1v5h-1zM821 367h1v5h-1zM822 372h1v6h-1zM823 378h1v5h-1zM824 383h1v5h-1zM825 388h1v5h-1zM826 393h1v5h-1zM827 398h1v5h-1zM828 403h1v4h-1zM829 407h1v5h-1zM830 412h1v5h-1zM831 417h1v4h-1zM832 421h1v5h-1zM833 426h1v4h-1zM834 430h1v5h-1zM835 435h1v5h-1zM836 440h1v4h-1zM837 444h1v3h-1zM838 447h2v1h-2zM840 448h1v1h-1zM841 449h2v1h-2zM843 450h1v1h-1zM844 451h1v1h-1zM845 452h2v1h-2zM847 453h1v1h-1zM848 452h1v1h-1zM849 451h1v1h-1zM850 450h1v1h-1zM851 449h2v1h-2zM853 448h1v1h-1zM854 447h1v1h-1zM855 446h2v1h-2zM856 445h1v1h-1zM857 447h1v2h-1zM858 449h1v3h-1zM859 452h1v3h-1zM860 455h1v2h-1zM861 457h1v3h-1zM862 460h1v2h-1zM863 462h1v3h-1zM864 465h1v3h-1zM865 468h1v1h-1zM865 469h2v1h-2zM866 470h1v2h-1zM867 465h1v4h-1zM868 461h1v4h-1zM869 457h1v4h-1zM870 453h1v4h-1zM871 449h1v4h-1zM872 445h1v4h-1zM873 441h1v4h-1zM874 437h1v4h-1zM875 433h1v4h-1zM876 430h1v3h-1zM877 429h1v1h-1zM878 428h1v1h-1zM879 427h1v1h-1zM880 425h1v2h-1zM881 424h1v1h-1zM882 423h1v1h-1zM883 422h1v1h-1zM884 421h2v1h-2zM885 420h1v1h-1zM885 422h1v1h-1zM886 423h1v5h-1zM887 428h1v4h-1zM888 432h1v5h-1zM889 437h1v5h-1zM890 442h1v4h-1zM891 446h1v5h-1zM892 451h1v5h-1zM893 456h1v4h-1zM894 460h1v5h-1zM895 465h1v2h-1zM895 467h2v1h-2zM897 466h2v1h-2zM899 465h3v1h-3zM902 464h2v1h-2zM904 463h11v1h-11zM915 464h1v2h-1zM916 466h1v1h-1zM917 467h1v2h-1zM918 469h1v1h-1zM919 470h1v2h-1zM920 472h1v1h-1zM921 473h1v2h-1zM922 475h1v1h-1zM923 476h1v2h-1zM924 478h1v1h-1zM925 479h1v2h-1zM926 481h1v1h-1zM927 482h1v2h-1zM928 484h1v1h-1zM929 485h1v2h-1zM930 487h1v1h-1zM931 488h1v2h-1zM932 490h1v1h-1zM933 491h1v2h-1zM934 493h5v1h-5zM939 492h6v1h-6zM945 493h2v1h-2zM947 494h3v1h-3zM950 495h2v1h-2zM952 496h2v1h-2zM954 497h2v1h-2zM956 498h1v1h-1zM957 499h2v1h-2zM959 500h1v1h-1zM960 501h1v1h-1zM961 502h2v1h-2zM963 503h3v1h-3zM966 504h5v1h-5zM971 505h5v1h-5zM976 506h4v1h-4zM980 507h5v1h-5zM985 508h5v1h-5zM990 509h5v1h-5zM995 510h4v1h-4zM999 511h9v1h-9z" fill="#55aaff"/>
<path d="M188 411h1v1h-1zM189 412h1v1h-1zM190 413h1v2h-1zM191 415h1v1h-1zM192 416h1v1h-1zM193 417h1v1h-1zM194 418h1v1h-1zM195 419h1v2h-1zM196 421h1v1h-1zM197 422h1v1h-1zM198 423h1v1h-1zM199 424h1v2h-1zM200 426h1v1h-1zM201 427h1v1h-1zM202 428h1v2h-1zM203 430h1v1h-1zM204 431h1v1h-1zM205 432h1v2h-1zM206 434h1v1h-1zM207 435h1v2h-1zM208 437h1v2h-1zM209 439h1v2h-1zM210 441h1v2h-1zM211 443h1v2h-1zM212 445h1v2h-1zM213 447h1v2h-1zM214 449h1v2h-1zM215 451h1v2h-1zM216 453h1v2h-1zM217 455h1v1h-1zM218 456h1v1h-1zM219 457h1v2h-1zM220 459h1v1h-1zM221 460h1v1h-1zM222 461h1v2h-1zM223 463h1v1h-1zM224 464h1v1h-1zM225 465h1v2h-1zM226 467h1v1h-1zM227 468h1v1h-1zM228 467h2v1h-2zM230 466h1v1h-1zM231 465h2v1h-2zM233 464h1v1h-1zM234 463h2v1h-2zM236 462h2v1h-2zM238 461h2v1h-2zM240 460h2v1h-2zM242 459h2v1h-2zM244 458h2v1h-2zM246 457h1v1h-1zM247 458h1v1h-1zM248 459h2v1h-2zM250 460h1v1h-1zM251 461h1v1h-1zM252 462h1v1h-1zM253 463h2v1h-2zM255 464h1v1h-1zM256 465h1v1h-1zM257 464h1v1h-1zM258 463h1v1h-1zM259 462h1v1h-1zM260 461h1v1h-1zM261 459h1v2h-1zM262 458h1v1h-1zM263 457h1v1h-1zM264 456h1v1h-1zM265 455h1v1h-1zM266 454h15v1h-15zM281 453h15v1h-15zM296 454h1v2h-1zM297 456h1v1h-1zM298 457h1v2h-1zM299 459h1v1h-1zM300 460h1v1h-1zM301 461h1v2h-1zM302 463h1v1h-1zM303 464h1v2h-1zM304 466h2v1h-2zM306 465h2v1h-2zM308 464h2v1h-2zM310 463h2v1h-2zM312 462h2v1h-2zM314 461h1v1h-1zM315 459h1v2h-1zM316 457h1v2h-1zM317 456h1v1h-1zM318 454h1v2h-1zM319 452h1v2h-1zM320 450h1v2h-1zM321 449h1v1h-1zM322 447h1v2h-1zM323 445h1v2h-1zM324 444h1v1h-1zM325 445h1v1h-1zM326 446h1v1h-1zM327 447h1v1h-1zM328 448h2v1h-2zM330 449h1v1h-1zM331 450h1v1h-1zM332 451h1v1h-1zM333 452h1v1h-1zM334 450h1v2h-1zM335 448h1v2h-1zM336 447h1v1h-1zM337 445h1v2h-1zM338 444h1v1h-1zM339 442h1v2h-1zM340 440h1v2h-1zM341 439h1v1h-1zM342 437h1v2h-1zM343 436h2v1h-2zM345 437h2v1h-2zM347 438h3v1h-3zM350 439h2v1h-2zM352 440h3v1h-3zM355 439h3v1h-3zM358 438h3v1h-3zM361 437h2v1h-2zM362 438h1v1h-1zM363 439h1v2h-1zM364 441h1v3h-1zM365 444h1v3h-1zM366 447h1v2h-1zM367 449h1v3h-1zM368 452h1v2h-1zM369 454h1v3h-1zM370 457h1v3h-1zM371 460h1v2h-1zM372 463h1v1h-1zM372 462h2v1h-2zM374 461h1v1h-1zM375 460h1v1h-1zM376 459h1v1h-1zM377 457h1v2h-1zM378 456h1v1h-1zM379 455h1v1h-1zM380 454h1v1h-1zM381 453h1v1h-1zM382 452h1v1h-1zM383 453h1v1h-1zM384 454h1v1h-1zM385 455h1v1h-1zM386 456h2v1h-2zM388 457h1v1h-1zM389 458h1v1h-1zM390 459h1v1h-1zM391 460h11v1h-11zM402 461h1v2h-1zM403 463h1v1h-1zM404 464h1v2h-1zM405 466h1v1h-1zM406 467h1v2h-1zM407 469h1v1h-1zM408 470h1v2h-1zM409 472h1v1h-1zM410 473h1v2h-1zM411 475h1v1h-1zM412 476h2v1h-2zM414 477h2v1h-2zM416 478h2v1h-2zM418 479h2v1h-2zM420 480h1v1h-1zM421 479h1v1h-1zM422 477h1v2h-1zM423 476h1v1h-1zM424 475h1v1h-1zM425 474h1v1h-1zM426 473h1v1h-1zM427 471h1v2h-1zM428 470h1v1h-1zM429 469h1v1h-1zM430 468h1v1h-1zM431 467h2v1h-2zM433 466h1v1h-1zM434 465h2v1h-2zM436 464h1v1h-1zM437 463h1v1h-1zM438 462h2v1h-2zM440 461h1v1h-1zM441 460h2v1h-2zM443 459h2v1h-2zM445 458h1v1h-1zM446 457h2v1h-2zM448 456h2v1h-2zM450 455h1v1h-1zM451 454h2v1h-2zM453 453h2v1h-2zM455 452h2v1h-2zM457 451h2v1h-2zM459 450h2v1h-2zM461 451h2v1h-2zM463 452h3v1h-3zM466 453h2v1h-2zM468 454h7v1h-7zM475 453h5v1h-5zM480 454h1v1h-1zM481 455h1v1h-1zM482 456h1v1h-1zM483 457h1v1h-1zM484 458h1v1h-1zM485 459h1v1h-1zM486 460h1v1h-1zM487 461h1v1h-1zM488 462h1v1h-1zM489 461h2v1h-2zM491 460h2v1h-2zM493 459h1v1h-1zM494 458h2v1h-2zM496 457h2v1h-2zM498 456h1v1h-1zM499 455h1v1h-1zM500 453h1v2h-1zM501 452h1v1h-1zM502 451h1v1h-1zM503 450h1v1h-1zM504 449h1v1h-1zM505 447h1v2h-1zM506 446h1v1h-1zM507 445h1v1h-1zM508 444h1v1h-1zM509 442h1v2h-1zM510 440h1v2h-1zM511 439h1v1h-1zM512 437h1v2h-1zM513 435h1v2h-1zM514 434h1v1h-1zM515 432h1v2h-1zM516 430h1v2h-1zM517 429h1v1h-1zM518 430h1v1h-1zM519 431h1v1h-1zM520 432h1v1h-1zM521 433h1v1h-1zM522 434h1v1h-1zM523 435h1v1h-1zM524 436h1v1h-1zM525 437h1v1h-1zM526 438h1v1h-1zM527 439h6v1h-6zM533 440h6v1h-6zM539 441h3v1h-3zM542 442h3v1h-3zM545 443h3v1h-3zM548 442h4v1h-4zM552 441h3v1h-3zM555 440h2v1h-2zM557 439h1v1h-1zM558 437h1v2h-1zM559 436h1v1h-1zM560 435h1v1h-1zM561 434h1v1h-1zM562 433h1v1h-1zM563 431h1v2h-1zM564 430h1v1h-1zM565 429h1v1h-1zM566 428h1v1h-1zM567 426h1v2h-1zM568 424h1v2h-1zM569 423h1v1h-1zM570 421h1v2h-1zM571 419h1v2h-1zM572 418h1v1h-1zM573 416h1v2h-1zM574 414h1v2h-1zM575 413h1v1h-1zM576 414h1v2h-1zM577 416h1v2h-1zM578 418h1v2h-1zM579 420h1v2h-1zM580 422h1v1h-1zM581 423h1v2h-1zM582 425h1v2h-1zM583 427h1v2h-1zM584 429h1v2h-1zM585 431h21v1h-21zM606 430h1v1h-1zM607 429h1v1h-1zM608 428h1v1h-1zM609 426h1v2h-1zM610 425h1v1h-1zM611 424h1v1h-1zM612 423h1v1h-1zM613 422h1v1h-1zM614 421h1v1h-1zM615 422h1v2h-1zM616 424h1v2h-1zM617 426h1v2h-1zM618 428h1v2h-1zM619 430h1v2h-1zM620 432h1v2h-1zM621 434h1v2h-1zM622 436h1v2h-1zM623 438h1v2h-1zM624 440h2v1h-2zM626 441h4v1h-4zM630 442h3v1h-3zM633 443h4v1h-4zM637 444h4v1h-4zM641 445h3v1h-3zM644 446h1v1h-1zM645 447h1v1h-1zM646 448h1v1h-1zM647 449h1v1h-1zM648 450h1v2h-1zM649 452h1v1h-1zM650 453h1v1h-1zM651 454h1v1h-1zM652 455h1v1h-1zM653 456h1v1h-1zM654 454h1v2h-1zM655 453h1v1h-1zM656 451h1v2h-1zM657 450h1v1h-1zM658 448h1v2h-1zM659 447h1v1h-1zM660 445h1v2h-1zM661 444h1v1h-1zM662 443h1v1h-1zM662 442h2v1h-2zM663 441h1v1h-1zM664 443h1v3h-1zM665 446h1v3h-1zM666 449h1v3h-1zM667 452h1v4h-1zM668 456h1v3h-1zM669 459h1v3h-1zM670 462h1v3h-1zM671 465h1v3h-1zM672 468h1v1h-1zM672 469h2v1h-2zM674 470h2v1h-2zM676 471h2v1h-2zM678 472h2v1h-2zM680 473h2v1h-2zM682 474h1v1h-1zM683 475h1v1h-1zM684 476h2v1h-2zM686 477h1v1h-1zM687 478h1v1h-1zM688 479h1v1h-1zM689 480h2v1h-2zM691 481h1v1h-1zM692 482h2v1h-2zM694 483h2v1h-2zM696 484h2v1h-2zM698 485h2v1h-2zM700 486h3v1h-3zM703 487h4v1h-4zM707 488h3v1h-3zM710 489h2v1h-2zM712 488h1v1h-1zM713 487h1v1h-1zM714 486h1v1h-1zM715 485h1v1h-1zM716 484h1v1h-1zM717 483h1v1h-1zM718 482h1v1h-1zM719 481h1v1h-1zM720 480h1v1h-1zM721 479h5v1h-5zM726 478h7v1h-7zM733 479h5v1h-5zM738 480h5v1h-5zM743 479h5v1h-5zM748 478h3v1h-3zM751 477h2v1h-2zM753 476h2v1h-2zM755 475h2v1h-2zM757 474h2v1h-2zM759 472h1v2h-1zM760 470h1v2h-1zM761 468h1v2h-1zM762 466h1v2h-1zM763 464h1v2h-1zM764 461h1v3h-1zM765 459h1v2h-1zM766 457h1v2h-1zM767 455h1v2h-1zM768 453h1v2h-1zM769 452h1v1h-1zM769 451h3v1h-3zM772 452h5v1h-5zM777 453h4v1h-4zM781 452h4v1h-4zM785 451h3v1h-3zM788 450h2v1h-2zM790 449h1v1h-1zM791 448h1v1h-1zM792 447h1v1h-1zM793 446h2v1h-2zM795 445h1v1h-1zM796 444h1v1h-1zM797 443h1v1h-1zM798 442h1v1h-1zM799 441h1v1h-1zM800 440h1v1h-1zM801 439h1v1h-1zM802 438h1v1h-1zM803 437h1v1h-1zM804 436h1v1h-1zM805 435h1v1h-1zM806 434h1v1h-1zM807 433h1v1h-1zM808 432h3v1h-3zM811 433h5v1h-5zM816 434h3v1h-3zM819 435h1v2h-1zM820 437h1v2h-1zM821 439h1v2h-1zM822 441h1v2h-1zM823 443h1v1h-1zM824 444h1v2h-1zM825 446h1v2h-1zM826 448h1v2h-1zM827 450h2v1h-2zM829 451h2v1h-2zM831 452h3v1h-3zM834 453h2v1h-2zM836 454h3v1h-3zM839 455h4v1h-4zM843 456h3v1h-3zM846 457h2v1h-2zM848 458h1v2h-1zM849 460h1v2h-1zM850 462h1v2h-1zM851 464h1v2h-1zM852 466h1v2h-1zM853 468h1v2h-1zM854 470h1v2h-1zM855 472h1v1h-1zM855 473h2v1h-2zM856 474h1v1h-1zM857 470h1v3h-1zM858 467h1v3h-1zM859 464h1v3h-1zM860 461h1v3h-1zM861 459h1v2h-1zM862 456h1v3h-1zM863 453h1v3h-1zM864 450h1v3h-1zM865 447h1v3h-1zM866 446h1v1h-1zM866 445h6v1h-6zM872 444h7v1h-7zM879 445h4v1h-4zM883 446h3v1h-3zM886 445h1v1h-1zM887 444h1v1h-1zM888 443h1v1h-1zM889 442h1v1h-1zM890 440h1v2h-1zM891 439h1v1h-1zM892 438h1v1h-1zM893 437h1v1h-1zM894 436h1v1h-1zM895 435h2v1h-2zM897 434h2v1h-2zM899 433h3v1h-3zM902 432h2v1h-2zM904 431h2v1h-2zM906 432h1v2h-1zM907 434h1v2h-1zM908 436h1v1h-1zM909 437h1v2h-1zM910 439h1v2h-1zM911 441h1v1h-1zM912 442h1v2h-1zM913 444h1v2h-1zM914 446h1v1h-1zM915 447h1v1h-1zM916 448h1v2h-1zM917 450h1v1h-1zM918 451h1v1h-1zM919 452h1v2h-1zM920 454h1v1h-1zM921 455h1v1h-1zM922 456h1v2h-1zM923 458h1v1h-1zM924 459h1v1h-1zM925 458h1v1h-1zM926 457h1v1h-1zM927 456h1v1h-1zM928 455h1v1h-1zM929 454h1v1h-1zM930 453h1v1h-1zM931 452h1v1h-1zM932 451h1v1h-1zM933 450h2v1h-2zM934 449h1v1h-1zM935 451h1v3h-1zM936 454h1v2h-1zM937 456h1v3h-1zM938 459h1v3h-1zM939 462h1v2h-1zM940 464h1v3h-1zM941 467h1v3h-1zM942 470h1v2h-1zM943 472h1v1h-1zM943 473h2v1h-2zM945 474h2v1h-2zM947 475h3v1h-3zM950 476h2v1h-2zM952 477h2v1h-2zM954 478h1v1h-1zM955 479h1v1h-1zM956 480h1v1h-1zM957 481h1v1h-1zM958 482h1v2h-1zM959 484h1v1h-1zM960 485h1v1h-1zM961 486h1v1h-1zM962 487h1v1h-1zM963 488h2v1h-2zM965 489h2v1h-2zM967 490h3v1h-3zM970 491h2v1h-2zM972 492h2v1h-2zM974 493h2v1h-2zM976 494h2v1h-2zM978 495h2v1h-2zM980 496h2v1h-2zM982 497h2v1h-2zM984 498h4v1h-4zM988 499h3v1h-3zM991 500h3v1h-3zM994 501h4v1h-4zM998 502h3v1h-3zM1001 503h4v1h-4zM1005 504h4v1h-4zM1009 505h8v1h-8zM1017 506h7v1h-7zM1024 507h5v1h-5zM1029 508h7v1h-7zM1036 509h10v1h-10zM1046 510h5v1h-5zM1051 509h1v1h-1zM1052 507h1v2h-1zM1053 506h1v1h-1zM1054 505h1v1h-1zM1055 503h1v2h-1zM1056 502h1v1h-1zM1057 501h1v1h-1zM1058 499h1v2h-1zM1059 498h1v1h-1zM1060 497h1v1h-1zM1061 496h1v1h-1zM1062 495h1v1h-1zM1063 494h1v1h-1zM1064 493h2v1h-2zM1066 492h1v1h-1zM1067 491h1v1h-1zM1068 490h1v1h-1zM1069 489h1v1h-1zM1070 488h2v1h-2zM1072 487h2v1h-2zM1074 486h1v1h-1zM1075 485h2v1h-2zM1077 484h2v1h-2zM1079 483h2v1h-2zM1081 482h4v1h-4zM1085 481h3v1h-3zM1088 480h2v1h-2zM1090 479h2v1h-2zM1092 478h1v1h-1zM1093 477h2v1h-2zM1095 476h1v1h-1zM1096 475h2v1h-2zM1098 474h11v1h-11z" fill="#000000"/>
<path d="M188 125h14v1h-14zM188 124h15v1h-15zM201 123h4v1h-4zM202 122h4v1h-4zM204 121h9v1h-9zM205 120h6v1h-6zM210 122h5v1h-5zM212 123h5v1h-5zM214 124h9v1h-9zM216 125h5v1h-5zM220 123h5v1h-5zM222 122h5v1h-5zM224 121h5v1h-5zM226 120h15v1h-15zM228 119h15v1h-15zM240 118h5v1h-5zM242 117h5v1h-5zM244 116h74v1h-74zM246 115h74v1h-74zM317 114h5v1h-5zM319 113h5v1h-5zM321 112h5v1h-5zM323 111h6v1h-6zM325 110h6v1h-6zM328 109h12v1h-12zM330 108h8v1h-8zM337 110h5v1h-5zM339 111h35v1h-35zM341 112h35v1h-35zM373 113h5v1h-5zM375 114h5v1h-5zM377 115h20v1h-20zM379 116h16v1h-16zM394 114h6v1h-6zM396 113h6v1h-6zM399 112h16v1h-16zM401 111h16v1h-16zM414 110h5v1h-5zM416 109h4v1h-4zM418 108h4v1h-4zM419 107h25v1h-25zM421 106h25v1h-25zM443 105h5v1h-5zM445 104h5v1h-5zM447 103h9v1h-9zM449 102h5v1h-5zM453 104h4v1h-4zM455 105h4v1h-4zM456 106h20v1h-20zM458 107h16v1h-16zM473 105h5v1h-5zM475 104h5v1h-5zM477 103h5v1h-5zM479 102h5v1h-5zM481 101h5v1h-5zM483 100h5v1h-5zM485 99h5v1h-5zM487 98h26v1h-26zM489 97h22v1h-22zM510 99h5v1h-5zM512 100h5v1h-5zM514 101h5v1h-5zM516 102h5v1h-5zM518 103h5v1h-5zM520 104h5v1h-5zM522 105h5v1h-5zM524 106h5v1h-5zM526 107h5v1h-5zM528 108h5v1h-5zM530 109h5v1h-5zM532 110h5v1h-5zM534 111h28v1h-28zM536 112h24v1h-24zM559 110h5v1h-5zM561 109h5v1h-5zM563 108h5v1h-5zM565 107h15v1h-15zM567 106h11v1h-11zM577 108h4v1h-4zM579 109h3v1h-3zM580 110h4v1h-4zM581 111h36v1h-36zM583 112h36v1h-36zM616 113h6v1h-6zM618 114h6v1h-6zM621 115h5v1h-5zM623 116h4v1h-4zM625 117h3v1h-3zM626 118h3v1h-3zM627 119h3v1h-3zM628 120h3v1h-3zM629 121h3v1h-3zM630 122h3v1h-3zM631 123h3v1h-3zM632 124h24v1h-24zM633 125h22v1h-22zM654 123h3v1h-3zM655 122h3v1h-3zM656 121h4v1h-4zM657 120h4v1h-4zM659 119h3v1h-3zM660 118h3v1h-3zM661 117h3v1h-3zM662 116h3v1h-3zM663 115h3v1h-3zM664 114h3v1h-3zM665 113h3v1h-3zM666 112h4v1h-4zM667 111h4v1h-4zM669 110h3v1h-3zM670 109h3v1h-3zM671 108h3v1h-3zM672 107h13v1h-13zM673 106h11v1h-11zM683 108h3v1h-3zM684 109h3v1h-3zM685 110h3v1h-3zM686 111h3v1h-3zM687 112h3v1h-3zM688 113h3v1h-3zM689 114h3v1h-3zM690 115h3v1h-3zM691 116h4v1h-4zM692 117h5v1h-5zM694 118h6v1h-6zM696 119h7v1h-7zM699 120h6v1h-6zM702 121h6v1h-6zM704 122h6v1h-6zM707 123h5v1h-5zM709 124h4v1h-4zM711 125h4v1h-4zM712 126h4v1h-4zM714 127h3v1h-3zM715 128h3v1h-3zM716 129h3v1h-3zM717 130h4v1h-4zM718 131h4v1h-4zM720 132h3v1h-3zM721 133h2v1h-2zM721 134h3v1h-3zM722 135h2v1h-2zM722 136h3v1h-3zM723 137h2v1h-2zM723 138h3v1h-3zM724 139h2v1h-2zM724 140h3v1h-3zM725 141h2v1h-2zM725 142h3v1h-3zM726 143h2v1h-2zM726 144h3v1h-3zM727 145h2v1h-2zM727 146h3v1h-3zM728 147h2v1h-2zM728 148h3v1h-3zM729 149h2v1h-2zM729 150h3v1h-3zM730 151h2v1h-2zM730 152h3v1h-3zM731 153h3v1h-3zM732 154h3v1h-3zM733 155h3v1h-3zM734 156h3v1h-3zM735 157h3v1h-3zM736 158h3v1h-3zM737 159h3v1h-3zM738 160h14v1h-14zM739 161h14v1h-14zM751 162h3v1h-3zM752 163h3v1h-3zM753 164h4v1h-4zM754 165h4v1h-4zM756 166h3v1h-3zM757 167h3v1h-3zM758 168h3v1h-3zM759 169h6v1h-6zM760 170h3v1h-3zM762 168h5v1h-5zM764 167h6v1h-6zM766 166h6v1h-6zM769 165h6v1h-6zM771 164h6v1h-6zM774 163h5v1h-5zM776 162h6v1h-6zM778 161h3v1h-3zM780 163h3v1h-3zM781 164h2v1h-2zM781 165h3v1h-3zM782 166h3v1h-3zM783 167h3v1h-3zM784 168h3v1h-3zM785 169h3v1h-3zM786 170h2v1h-2zM786 171h3v1h-3zM787 172h3v1h-3zM788 173h4v1h-4zM789 174h5v1h-5zM791 175h5v1h-5zM793 176h5v1h-5zM795 177h6v1h-6zM797 178h3v1h-3zM799 176h4v1h-4zM800 175h4v1h-4zM802 174h3v1h-3zM803 173h3v1h-3zM804 172h4v1h-4zM805 171h4v1h-4zM807 170h15v1h-15zM808 169h17v1h-17zM821 168h6v1h-6zM824 167h5v1h-5zM826 166h4v1h-4zM828 165h3v1h-3zM829 164h3v1h-3zM830 163h4v1h-4zM831 162h4v1h-4zM833 161h3v1h-3zM834 160h3v1h-3zM835 159h3v1h-3zM836 158h3v1h-3zM837 157h3v1h-3zM838 156h3v1h-3zM839 155h3v1h-3zM840 154h4v1h-4zM841 153h4v1h-4zM843 152h3v1h-3zM844 151h3v1h-3zM845 150h10v1h-10zM846 149h4v1h-4zM849 151h10v1h-10zM854 152h4v1h-4zM857 150h3v1h-3zM858 149h3v1h-3zM859 148h3v1h-3zM860 147h3v1h-3zM861 146h3v1h-3zM862 145h3v1h-3zM863 144h3v1h-3zM864 143h3v1h-3zM865 142h3v1h-3zM866 141h3v1h-3zM867 140h3v1h-3zM868 139h3v1h-3zM869 138h3v1h-3zM870 137h3v1h-3zM871 136h2v1h-2zM871 135h3v1h-3zM872 134h3v1h-3zM873 133h3v1h-3zM874 132h3v1h-3zM875 131h3v1h-3zM876 130h3v1h-3zM877 129h3v1h-3zM878 128h3v1h-3zM879 127h3v1h-3zM880 126h3v1h-3zM881 125h2v1h-2zM881 124h3v1h-3zM882 123h3v1h-3zM883 122h3v1h-3zM884 121h3v1h-3zM885 120h25v1h-25zM886 119h26v1h-26zM909 118h5v1h-5zM911 117h9v1h-9zM913 116h4v1h-4zM916 118h7v1h-7zM919 119h31v1h-31zM922 120h26v1h-26zM947 118h5v1h-5zM949 117h5v1h-5zM951 116h46v1h-46zM953 115h46v1h-46zM996 114h5v1h-5zM998 113h10v1h-10zM1000 112h6v1h-6zM1005 114h5v1h-5zM1007 115h10v1h-10zM1009 116h6v1h-6zM1014 114h5v1h-5zM1016 113h12v1h-12zM1018 112h8v1h-8zM1025 114h5v1h-5zM1027 115h10v1h-10zM1029 116h6v1h-6zM1034 114h5v1h-5zM1036 113h5v1h-5zM1038 112h25v1h-25zM1040 111h24v1h-24zM1062 110h3v1h-3zM1063 109h3v1h-3zM1064 108h3v1h-3zM1065 107h3v1h-3zM1066 106h3v1h-3zM1067 105h3v1h-3zM1068 104h3v1h-3zM1069 103h3v1h-3zM1070 102h39v1h-39zM1071 101h38v1h-38z" fill="#0000ff"/>
<path d="M188 427h13v1h-13zM188 426h32v1h-32zM200 425h32v1h-32zM219 424h40v1h-40zM231 423h12v1h-12zM242 425h19v1h-19zM258 426h40v1h-40zM260 427h27v1h-27zM286 425h34v1h-34zM297 424h19v1h-19zM315 426h9v1h-9zM319 427h51v1h-51zM323 428h22v1h-22zM344 426h30v1h-30zM369 425h32v1h-32zM373 424h22v1h-22zM394 426h38v1h-38zM400 427h105v1h-105zM431 428h40v1h-40zM470 426h11v1h-11zM480 428h21v1h-21zM500 426h8v1h-8zM504 425h7v1h-7zM507 424h6v1h-6zM510 423h6v1h-6zM512 422h6v1h-6zM515 421h6v1h-6zM517 420h6v1h-6zM520 419h6v1h-6zM522 418h6v1h-6zM525 417h54v1h-54zM527 416h54v1h-54zM578 415h5v1h-5zM580 414h5v1h-5zM582 413h24v1h-24zM584 412h24v1h-24zM605 411h5v1h-5zM607 410h5v1h-5zM609 409h5v1h-5zM611 408h5v1h-5zM613 407h5v1h-5zM615 406h5v1h-5zM617 405h5v1h-5zM619 404h5v1h-5zM621 403h29v1h-29zM623 402h31v1h-31zM649 401h19v1h-19zM653 400h12v1h-12zM664 402h7v1h-7zM667 403h10v1h-10zM670 404h4v1h-4zM673 402h7v1h-7zM676 401h6v1h-6zM679 400h5v1h-5zM681 399h5v1h-5zM683 398h4v1h-4zM685 397h4v1h-4zM686 396h4v1h-4zM688 395h4v1h-4zM689 394h5v1h-5zM691 393h6v1h-6zM693 392h9v1h-9zM696 391h13v1h-13zM701 390h15v1h-15zM708 389h12v1h-12zM715 388h7v1h-7zM719 387h4v1h-4zM721 386h3v1h-3zM722 385h3v1h-3zM723 384h3v1h-3zM724 383h3v1h-3zM725 382h3v1h-3zM726 381h3v1h-3zM727 380h3v1h-3zM728 379h3v1h-3zM729 378h9v1h-9zM730 377h15v1h-15zM737 376h10v1h-10zM744 375h5v1h-5zM746 374h5v1h-5zM748 373h16v1h-16zM750 372h10v1h-10zM759 374h9v1h-9zM763 375h22v1h-22zM767 376h16v1h-16zM782 374h5v1h-5zM784 373h6v1h-6zM786 372h6v1h-6zM789 371h5v1h-5zM791 370h11v1h-11zM793 369h20v1h-20zM801 368h9v1h-9zM809 370h8v1h-8zM812 371h8v1h-8zM816 372h7v1h-7zM819 373h6v1h-6zM822 374h6v1h-6zM824 375h7v1h-7zM827 376h6v1h-6zM830 377h6v1h-6zM832 378h7v1h-7zM835 379h8v1h-8zM838 380h8v1h-8zM842 381h8v1h-8zM845 382h9v1h-9zM849 383h10v1h-10zM853 384h10v1h-10zM858 385h19v1h-19zM862 386h19v1h-19zM876 387h9v1h-9zM880 388h22v1h-22zM884 389h22v1h-22zM901 390h10v1h-10zM905 391h11v1h-11zM910 392h10v1h-10zM915 393h23v1h-23zM919 394h23v1h-23zM937 395h18v1h-18zM941 396h17v1h-17zM954 397h6v1h-6zM957 398h6v1h-6zM959 399h37v1h-37zM962 400h39v1h-39zM995 401h11v1h-11zM1000 402h22v1h-22zM1005 403h13v1h-13zM1017 401h8v1h-8zM1021 400h8v1h-8zM1024 399h15v1h-15zM1028 398h8v1h-8zM1035 400h37v1h-37zM1038 401h14v1h-14zM1051 399h17v1h-17zM1067 401h9v1h-9zM1071 402h9v1h-9zM1075 403h11v1h-11zM1079 404h14v1h-14zM1085 405h12v1h-12zM1092 406h9v1h-9zM1096 407h9v1h-9zM1100 408h8v1h-8zM1104 409h5v1h-5zM1107 410h2v1h-2z" fill="#ff0000"/>
</g>
<text class="r e" x="34.5" y="516">0.0</text>
<text class="r e" x="34.5" y="490">2.0</text>
<text class="r e" x="34.5" y="465">4.0</text>
<text class="r e" x="34.5" y="439">6.0</text>
<text class="r e" x="34.5" y="413">8.0</text>
<text class="r e" x="34.5" y="387">10.0</text>
<text class="r e" x="34.5" y="362">12.0</text>
<text class="r e" x="34.5" y="336">14.0</text>
<text class="r e" x="34.5" y="310">16.0</text>
<text class="r e" x="34.5" y="285">18.0</text>
<text class="r e" x="34.5" y="259">20.0</text>
<text class="r" x="19.3" y="50.8">°C</text>
<text x="567" y="21" style="font-size:16px;letter-spacing:-0.12px;stroke:none">Montag, 07.05.2012</text>
<text x="1173.5" y="16" style="fill:#0000ff;stroke:#0000ff;letter-spacing:-0.1px">Osterode am Harz</text>
<rect x="198.5" y="33.5" width="9" height="9" fill="#ff0000" stroke="#000" stroke-width="1" shape-rendering="crispEdges"/>
<text x="212" y="42">Außen</text>
<rect x="293.5" y="33.5" width="9" height="9" fill="#0000ff" stroke="#000" stroke-width="1" shape-rendering="crispEdges"/>
<text x="307" y="42">Feuchte</text>
<rect x="388.5" y="33.5" width="9" height="9" fill="#00f000" stroke="#000" stroke-width="1" shape-rendering="crispEdges"/>
<text x="402" y="42">Luftdruck*</text>
<rect x="483.5" y="33.5" width="9" height="9" fill="#00ffff" stroke="#000" stroke-width="1" shape-rendering="crispEdges"/>
<text x="497" y="42">Regen</text>
<rect x="578.5" y="33.5" width="9" height="9" fill="#000000" stroke="#000" stroke-width="1" shape-rendering="crispEdges"/>
<text x="592" y="42">Wind*</text>
<rect x="673.5" y="33.5" width="9" height="9" fill="#808080" stroke="#000" stroke-width="1" shape-rendering="crispEdges"/>
<text x="687" y="42">Richtung*</text>
<rect x="768.5" y="33.5" width="9" height="9" fill="#ffff00" stroke="#000" stroke-width="1" shape-rendering="crispEdges"/>
<text x="782" y="42" style="letter-spacing:-0.15px">Sonnenschein</text>
<rect x="863.5" y="33.5" width="9" height="9" fill="#55aaff" stroke="#000" stroke-width="1" shape-rendering="crispEdges"/>
<text x="877" y="42">Helligkeit</text>
<rect x="958.5" y="33.5" width="9" height="9" fill="#008000" stroke="#000" stroke-width="1" shape-rendering="crispEdges"/>
<text x="972" y="42">Solar</text>
<rect x="198.5" y="47.5" width="9" height="9" fill="#408080" stroke="#000" stroke-width="1" shape-rendering="crispEdges"/>
<text x="212" y="56">Taupunkt*</text>
<g fill="#ffee00" shape-rendering="crispEdges"><rect x="43" y="535" width="3" height="1"/><rect x="41" y="536" width="7" height="1"/><rect x="40" y="537" width="9" height="4"/></g>
<g><g stroke="#ffff80" stroke-width="0.8" opacity="0.7"><line x1="402.6" y1="533.3" x2="412" y2="542.7"/><line x1="412" y1="533.3" x2="402.6" y2="542.7"/><line x1="407.3" y1="531.7" x2="407.3" y2="544.3"/><line x1="401" y1="538" x2="413.6" y2="538"/><circle cx="407.3" cy="538" r="5.2" fill="none"/></g><circle cx="407.3" cy="538" r="3.1" fill="#ffff00"/></g>
<rect x="994.5" y="535.5" width="5" height="5" fill="none" stroke="#ffff55" stroke-width="1" shape-rendering="crispEdges"/>
<rect x="1" y="547" width="1268" height="72" fill="#e3f9d0"/>
<g shape-rendering="crispEdges" stroke="#787878" stroke-width="1">
<line x1="88.5" y1="547" x2="88.5" y2="619"/>
<line x1="205.5" y1="547" x2="205.5" y2="619"/>
<line x1="323.5" y1="547" x2="323.5" y2="619"/>
<line x1="441.5" y1="547" x2="441.5" y2="619"/>
<line x1="559.5" y1="547" x2="559.5" y2="619"/>
<line x1="677.5" y1="547" x2="677.5" y2="619"/>
<line x1="795.5" y1="547" x2="795.5" y2="619"/>
<line x1="913.5" y1="547" x2="913.5" y2="619"/>
<line x1="1269.5" y1="547" x2="1269.5" y2="619"/>
</g>
<text x="9.0" y="565" class="b">Sensor</text>
<text x="9.0" y="581" class="b">MinWert</text>
<text x="9.0" y="597" class="b">MaxWert</text>
<text x="9.0" y="613" class="b">Durchschnitt</text>
<text x="94.2" y="565" class="b">Außen</text>
<text x="198.3" y="565" class="b e">°C</text>
<text x="101.0" y="581">03:45</text>
<text x="198.3" y="581" class="e">6.5</text>
<text x="101.0" y="597">15:45</text>
<text x="198.3" y="597" class="e">11.1</text>
<text x="100.0" y="613" style="letter-spacing:-0.23px">( - 5.43 )</text>
<text x="198.3" y="613" class="e">8.20</text>
<text x="212.8" y="565" class="b">Feuchte</text>
<text x="316.2" y="565" class="b e">%</text>
<text x="218.0" y="581">15:45</text>
<text x="316.2" y="581" class="e">74</text>
<text x="218.0" y="597">07:45</text>
<text x="316.2" y="597" class="e">92</text>
<text x="316.2" y="613" class="e">87</text>
<text x="330.6" y="565" class="b">Luftdruck</text>
<text x="434.6" y="565" class="b e">hPa</text>
<text x="337.0" y="581">01:15</text>
<text x="434.6" y="581" class="e">1012.3</text>
<text x="337.0" y="597">10:45</text>
<text x="434.6" y="597" class="e">1016.4</text>
<text x="330.6" y="613" style="letter-spacing:0.15px">^2.1hPa/h</text>
<text x="434.6" y="613" class="e">1014.8</text>
<text x="448.5" y="565" class="b">Wind</text>
<text x="551.7" y="565" class="b e">km/h</text>
<text x="448.5" y="581" style="letter-spacing:-0.40px">Ø 10 min.</text>
<text x="551.7" y="581" class="e">5.0</text>
<text x="455.0" y="597">10:00</text>
<text x="551.7" y="597" class="e">W-SW 15.5</text>
<text x="455.0" y="613">135.1 km</text>
<text x="551.7" y="613" class="e">5.6</text>
<text x="566.3" y="565" class="b">Richtung</text>
<text x="572.6" y="581">21:45</text>
<text x="669.7" y="581" class="e">N</text>
<text x="572.6" y="597">16:00</text>
<text x="669.7" y="597" class="e">N</text>
<text x="669.7" y="613" class="e">N-NW</text>
<text x="684.8" y="565">Regen/1h</text>
<text x="789.0" y="565" class="e">0.00l/m²</text>
<text x="684.8" y="581" style="letter-spacing:0.20px">Regen/Tag</text>
<text x="789.0" y="581" class="e">0.27l/m²</text>
<text x="684.8" y="597">Neumond</text>
<text x="789.0" y="597" class="e">21.05.12</text>
<text x="684.8" y="613">Vollmond</text>
<text x="789.0" y="613" class="e">04.06.12</text>
<text x="802.5" y="565">Wolkenunterg</text>
<text x="906.2" y="565" class="e">212m</text>
<text x="802.5" y="581" style="letter-spacing:-0.26px">Schneefallgr</text>
<text x="906.2" y="581" class="e">1270m</text>
<text x="802.5" y="597">Schneehöhe</text>
<text x="906.2" y="597" class="e">0cm</text>
<text x="802.5" y="613" style="letter-spacing:-0.38px">Sonnen Pos</text>
<text x="906.2" y="613" class="e" style="letter-spacing:-0.27px">-18,388°</text>
<text x="920.4" y="565" class="b">Solar</text>
<text x="1021.8" y="565" class="b e">W/m²</text>
<text x="920.4" y="581">Elevation</text>
<text x="1021.8" y="581" class="e">-18.388</text>
<text x="926.6" y="597">13:45</text>
<text x="1021.8" y="597" class="e">584</text>
<text x="920.4" y="613">30 min.</text>
<text x="1021.8" y="613" class="e">125</text>
</svg></body></html>
